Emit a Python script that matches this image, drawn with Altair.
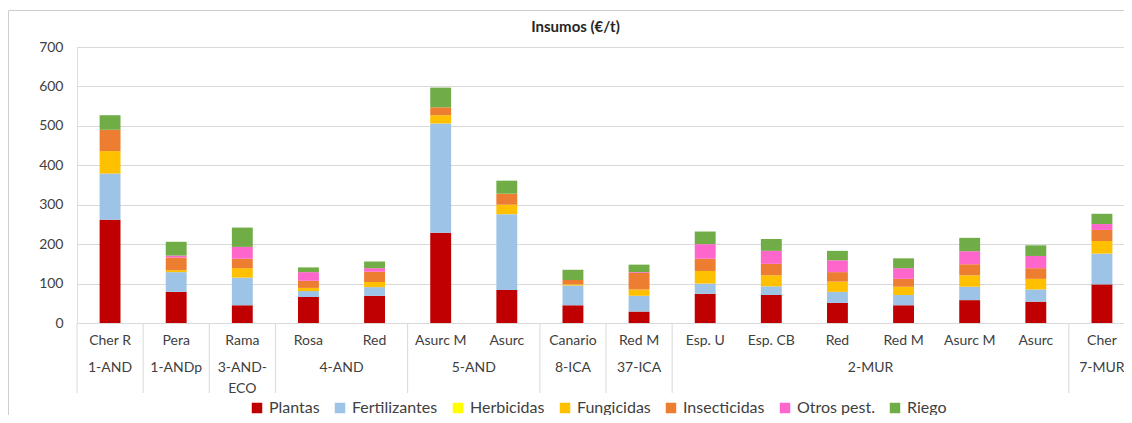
import altair as alt
import pandas as pd

categories = ["Cher R", "Pera", "Rama", "Rosa", "Red", "Asurc M", "Asurc", "Canario",
              "Red M", "Esp. U", "Esp. CB", "Red", "Red M", "Asurc M", "Asurc", "Cher"]
groups = ["1-AND", "1-ANDp", "3-AND-\nECO", "4-AND", "4-AND", "5-AND", "5-AND", "8-ICA",
          "37-ICA", "2-MUR", "2-MUR", "2-MUR", "2-MUR", "2-MUR", "2-MUR", "7-MUR"]

series = ["Plantas", "Fertilizantes", "Herbicidas", "Fungicidas", "Insecticidas", "Otros pest.", "Riego"]
colors = ["#C00000", "#9DC3E6", "#FFFF00", "#FFC000", "#ED7D31", "#FF66CC", "#70AD47"]

plantas       = [262, 79, 45, 66, 69, 229, 84, 45, 29, 74, 71, 51, 45, 58, 54, 98]
fertilizantes = [117, 50, 70, 15, 22, 277, 192, 50, 40, 26, 22, 28, 26, 34, 31, 78]
herbicidas    = [0, 0, 0, 0, 0, 0, 0, 0, 0, 0, 0, 0, 0, 0, 0, 0]
fungicidas    = [57, 5, 24, 8, 13, 21, 24, 3, 16, 32, 28, 26, 21, 29, 27, 32]
insecticidas  = [54, 32, 24, 18, 26, 20, 28, 11, 42, 31, 29, 24, 20, 28, 27, 28]
otros         = [0, 5, 30, 22, 9, 0, 0, 0, 2, 37, 33, 30, 27, 33, 31, 15]
riego         = [37, 35, 49, 12, 17, 50, 33, 26, 19, 32, 30, 24, 25, 34, 27, 26]

values = [plantas, fertilizantes, herbicidas, fungicidas, insecticidas, otros, riego]

rows = []
for s_i, (s, vals) in enumerate(zip(series, values)):
    for i, v in enumerate(vals):
        rows.append({"idx": i, "cat": categories[i], "series": s, "order": s_i, "value": v})
df = pd.DataFrame(rows)

df_cats = pd.DataFrame({"idx": list(range(len(categories))), "cat": categories})

# group label positions and separators
grp_names, grp_centers, seps = [], [], []
start = 0
for i in range(1, len(groups) + 1):
    if i == len(groups) or groups[i] != groups[start]:
        grp_names.append(groups[start])
        grp_centers.append((start + i - 1) / 2)
        seps.append(start - 0.5)
        start = i
df_groups = pd.DataFrame({"name": grp_names, "center": grp_centers})
df_seps = pd.DataFrame({"b": seps})

FONT = "Lato"
TXT = "#404040"
GRID = "#d9d9d9"
W = 1047
H = 276

xscale = alt.Scale(domain=[-0.5, len(categories) - 0.5], range=[0, 1058], nice=False, zero=False)
yscale = alt.Scale(domain=[0, 700], nice=False)

bars = alt.Chart(df).transform_stack(
    stack="value", groupby=["idx"], as_=["y0", "y1"], sort=[alt.SortField("order")]
).transform_calculate(
    xa="datum.idx - 0.158", xb="datum.idx + 0.158"
).mark_bar(strokeWidth=0).encode(
    x=alt.X("xa:Q", scale=xscale, axis=None),
    x2="xb:Q",
    y=alt.Y("y0:Q", scale=yscale, title=None,
            axis=alt.Axis(values=[0, 100, 200, 300, 400, 500, 600, 700], grid=True,
                          gridColor=GRID, domain=False, ticks=False, labelPadding=14,
                          labelFontSize=14, labelFont=FONT, labelColor=TXT)),
    y2="y1:Q",
    color=alt.Color("series:N", scale=alt.Scale(domain=series, range=colors),
                    legend=alt.Legend(title=None, orient="none", legendX=172, legendY=353,
                                      direction="horizontal", symbolType="square",
                                      symbolSize=110, symbolStrokeWidth=0,
                                      labelFontSize=16, labelFont=FONT, labelColor=TXT,
                                      columnPadding=12, padding=0)),
)

cat_labels = alt.Chart(df_cats).mark_text(
    font=FONT, fontSize=14, color=TXT, baseline="middle", align="center"
).encode(
    x=alt.X("idx:Q", scale=xscale, axis=None),
    y=alt.value(H + 18),
    text="cat:N",
)

grp_labels = alt.Chart(df_groups).mark_text(
    font=FONT, fontSize=14, color=TXT, baseline="top", align="center",
    lineBreak="\n", lineHeight=21
).encode(
    x=alt.X("center:Q", scale=xscale, axis=None),
    y=alt.value(H + 38),
    text="name:N",
)

sep_rules = alt.Chart(df_seps).mark_rule(color=GRID, strokeWidth=1).encode(
    x=alt.X("b:Q", scale=xscale, axis=None),
    y=alt.value(H),
    y2=alt.value(H + 70),
)

frame_left = alt.Chart(pd.DataFrame({"k": [0]})).mark_rule(color="#cfcfcf", strokeWidth=1).encode(
    x=alt.value(-68.5), y=alt.value(-36.5), y2=alt.value(H + 92)
)
frame_top = alt.Chart(pd.DataFrame({"k": [0]})).mark_rule(color="#cfcfcf", strokeWidth=1).encode(
    x=alt.value(-68.5), x2=alt.value(W), y=alt.value(-36.5)
)

chart = alt.layer(frame_left, frame_top, sep_rules, bars, cat_labels, grp_labels).properties(
    width=W,
    height=H,
    title=alt.TitleParams("Insumos (€/t)", font=FONT, fontSize=15, fontWeight="bold",
                          color="#262626", anchor="middle", dx=-25, dy=40, offset=0,
                          baseline="bottom"),
    autosize=alt.AutoSizeParams(type="none"),
    padding={"left": 69, "top": 39, "right": 0, "bottom": 92},
).configure_view(stroke=None).configure(background="white")

chart.save("out.html", embed_options={"renderer": "svg", "actions": False})
